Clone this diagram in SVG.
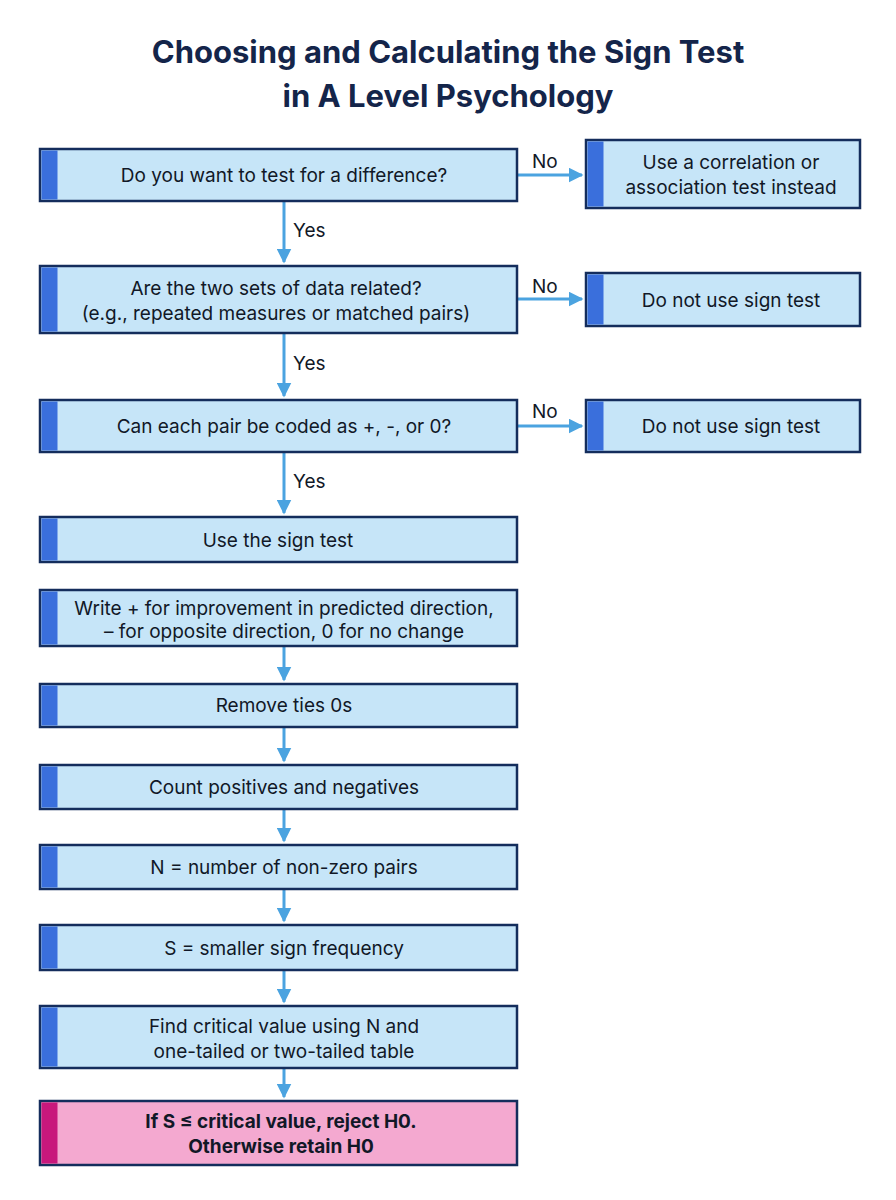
<svg xmlns="http://www.w3.org/2000/svg" width="896" height="1200" viewBox="0 0 896 1200">
<style>
.t{font-family:"Inter","Liberation Sans",sans-serif;fill:#111827;font-size:19px;text-anchor:middle}
.ti{font-family:"Inter","Liberation Sans",sans-serif;fill:#14254a;font-size:31px;font-weight:700;text-anchor:middle}
.b{fill:#c6e5f8;stroke:#142d5c;stroke-width:2.5}
.bar{fill:#3a6fdc}
.p{fill:#f4a9d0;stroke:#142d5c;stroke-width:2.5}
.pbar{fill:#c8187c}
.c{stroke:#4ba3e0;stroke-width:3;fill:none;marker-end:url(#a)}
.l{font-family:"Inter","Liberation Sans",sans-serif;fill:#111827;font-size:19px}
</style>
<defs><marker id="a" viewBox="0 0 10 10" refX="9" refY="5" markerWidth="6" markerHeight="6" markerUnits="userSpaceOnUse" orient="auto"><path d="M0,0L10,5L0,10z" fill="#4ba3e0"/></marker>
<marker id="a2" viewBox="0 0 10 10" refX="9" refY="5" markerWidth="5" markerHeight="5" orient="auto"><path d="M0,0L10,5L0,10z" fill="#4ba3e0"/></marker></defs>
<rect width="896" height="1200" fill="#fff"/>
<text class="ti" x="448" y="63">Choosing and Calculating the Sign Test</text>
<text class="ti" x="448" y="107">in A Level Psychology</text>
<g id="connectors">
<path class="c" d="M284 201V262" style="marker-end:url(#a2)"/>
<path class="c" d="M284 333V396" style="marker-end:url(#a2)"/>
<path class="c" d="M284 452V513" style="marker-end:url(#a2)"/>
<path class="c" d="M284 646V680" style="marker-end:url(#a2)"/>
<path class="c" d="M284 727V761" style="marker-end:url(#a2)"/>
<path class="c" d="M284 809V841" style="marker-end:url(#a2)"/>
<path class="c" d="M284 889V921" style="marker-end:url(#a2)"/>
<path class="c" d="M284 970V1002" style="marker-end:url(#a2)"/>
<path class="c" d="M284 1068V1097" style="marker-end:url(#a2)"/>
<path class="c" d="M517 175H582" style="marker-end:url(#a2)"/>
<path class="c" d="M517 299H582" style="marker-end:url(#a2)"/>
<path class="c" d="M517 426H582" style="marker-end:url(#a2)"/>
<text class="l" x="293" y="237">Yes</text>
<text class="l" x="293" y="370">Yes</text>
<text class="l" x="293" y="488">Yes</text>
<text class="l" x="532" y="168">No</text>
<text class="l" x="532" y="293">No</text>
<text class="l" x="532" y="418">No</text>
</g>
<g id="n1"><rect class="b" x="40" y="149" width="477" height="52"/><rect class="bar" x="41.5" y="150.5" width="16" height="49"/><text class="t" x="284" y="182">Do you want to test for a difference?</text></g>
<g id="n1r"><rect class="b" x="586" y="140" width="274" height="68"/><rect class="bar" x="587.5" y="141.5" width="16" height="65"/><text class="t" x="731" y="169">Use a correlation or</text><text class="t" x="731" y="194">association test instead</text></g>
<g id="n2"><rect class="b" x="40" y="266" width="477" height="67"/><rect class="bar" x="41.5" y="267.5" width="16" height="64"/><text class="t" x="276" y="295">Are the two sets of data related?</text><text class="t" x="276" y="320">(e.g., repeated measures or matched pairs)</text></g>
<g id="n2r"><rect class="b" x="586" y="273" width="274" height="53"/><rect class="bar" x="587.5" y="274.5" width="16" height="50"/><text class="t" x="731" y="307">Do not use sign test</text></g>
<g id="n3"><rect class="b" x="40" y="400" width="477" height="52"/><rect class="bar" x="41.5" y="401.5" width="16" height="49"/><text class="t" x="284" y="433">Can each pair be coded as +, -, or 0?</text></g>
<g id="n3r"><rect class="b" x="586" y="400" width="274" height="52"/><rect class="bar" x="587.5" y="401.5" width="16" height="49"/><text class="t" x="731" y="433">Do not use sign test</text></g>
<g id="n4"><rect class="b" x="40" y="517" width="477" height="45"/><rect class="bar" x="41.5" y="518.5" width="16" height="42"/><text class="t" x="278" y="547">Use the sign test</text></g>
<g id="n5"><rect class="b" x="40" y="590" width="477" height="56"/><rect class="bar" x="41.5" y="591.5" width="16" height="53"/><text class="t" x="284" y="615">Write + for improvement in predicted direction,</text><text class="t" x="284" y="638">– for opposite direction, 0 for no change</text></g>
<g id="n6"><rect class="b" x="40" y="684" width="477" height="43"/><rect class="bar" x="41.5" y="685.5" width="16" height="40"/><text class="t" x="284" y="712">Remove ties 0s</text></g>
<g id="n7"><rect class="b" x="40" y="765" width="477" height="44"/><rect class="bar" x="41.5" y="766.5" width="16" height="41"/><text class="t" x="284" y="794">Count positives and negatives</text></g>
<g id="n8"><rect class="b" x="40" y="845" width="477" height="44"/><rect class="bar" x="41.5" y="846.5" width="16" height="41"/><text class="t" x="284" y="874">N = number of non-zero pairs</text></g>
<g id="n9"><rect class="b" x="40" y="925" width="477" height="45"/><rect class="bar" x="41.5" y="926.5" width="16" height="42"/><text class="t" x="284" y="955">S = smaller sign frequency</text></g>
<g id="n10"><rect class="b" x="40" y="1006" width="477" height="62"/><rect class="bar" x="41.5" y="1007.5" width="16" height="59"/><text class="t" x="284" y="1033">Find critical value using N and</text><text class="t" x="284" y="1058">one-tailed or two-tailed table</text></g>
<g id="n11"><rect class="p" x="40" y="1101" width="477" height="64"/><rect class="pbar" x="41.5" y="1102.5" width="16" height="61"/><text class="t" x="281" y="1128" font-weight="700">If S ≤ critical value, reject H0.</text><text class="t" x="281" y="1153" font-weight="700">Otherwise retain H0</text></g>
</svg>
